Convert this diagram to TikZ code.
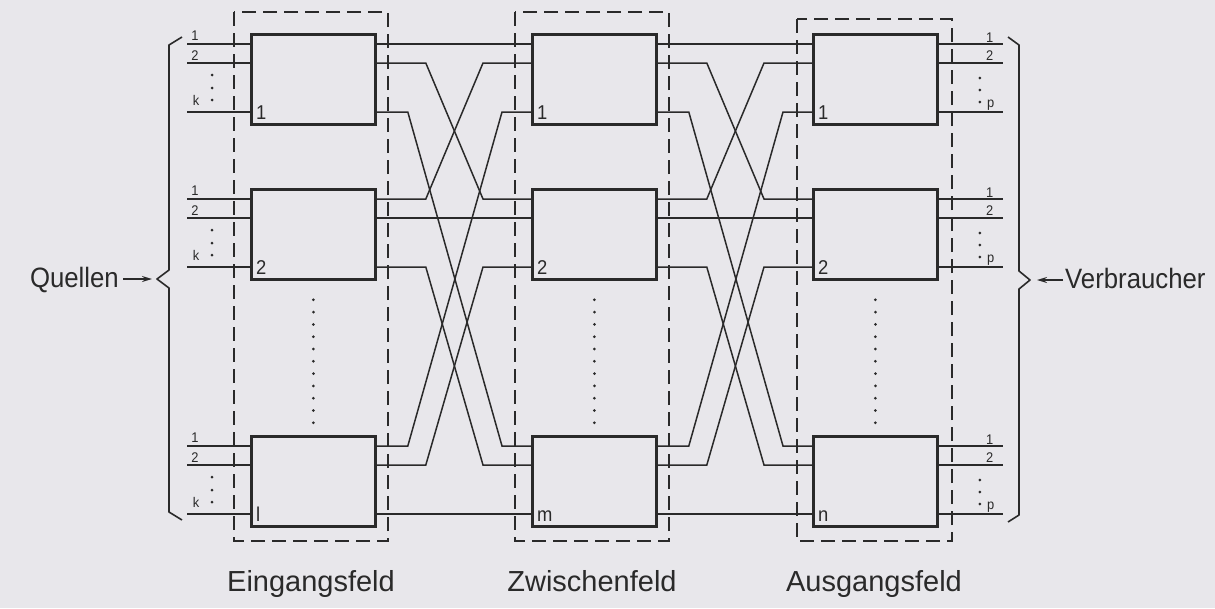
\documentclass[tikz,border=0pt]{standalone}
\usepackage{fontspec}
\setmainfont[FakeStretch=0.92]{Liberation Sans}
\newfontfamily\fieldfont[FakeStretch=1.0]{Liberation Sans}
\usetikzlibrary{calc,arrows.meta}
\definecolor{bg}{HTML}{E8E7EB}
\definecolor{ink}{HTML}{2A2A2A}
\newcommand\crosslink[4]{\draw[wire] (#1) -- ++(#3,0) -- ($(#2)+(-#4,0)$) -- (#2);}
\begin{document}
\begin{tikzpicture}[x=1pt,y=-1pt,
  sw/.style={draw=ink,line width=2.8pt,minimum width=124pt,minimum height=90pt,inner sep=0pt,anchor=north west},
  wire/.style={draw=ink,line width=1.5pt},
  field/.style={draw=ink,line width=1.8pt,dash pattern=on 14pt off 7pt},
  brace/.style={draw=ink,line width=1.6pt,line join=round},
  big/.style={font=\fontsize{28}{30}\selectfont,inner sep=0pt,text=ink},
  fieldlabel/.style={font=\fieldfont\fontsize{29}{31}\selectfont,inner sep=0pt,text=ink,anchor=base},
  small/.style={font=\fontsize{14}{16}\selectfont,inner sep=0pt,anchor=base,text=ink},
  num/.style={font=\fontsize{20}{22}\selectfont,inner sep=0pt,anchor=base west,text=ink},
  arr/.style={draw=ink,line width=1.6pt,-{Stealth[length=10pt,width=6pt]}}
]
\useasboundingbox (0,0) rectangle (1215,608);
\fill[bg] (0,0) rectangle (1215,608);

% dashed fields
\draw[field] (234,12) rectangle (388,541);
\draw[field] (515,12) rectangle (669,541);
\draw[field] (797,19) rectangle (952,541);

% switch boxes
\foreach \c/\x in {L/250,M/531,R/812}{
  \foreach \b/\y in {1/33,2/188,3/435}{
    \node[sw] (\c\b) at (\x,\y) {};
    \foreach \p/\o in {1/11,2/30,3/79}{
      \coordinate (\c\b o\p) at ($(\c\b.north east)+(0,\o)$);
      \coordinate (\c\b i\p) at ($(\c\b.north west)+(0,\o)$);
    }
  }
}

% links between stages
\foreach \A/\B in {L/M,M/R}{
  \draw[wire] (\A1o1) -- (\B1i1);
  \draw[wire] (\A2o2) -- (\B2i2);
  \draw[wire] (\A3o3) -- (\B3i3);
  \crosslink{\A1o2}{\B2i1}{49}{48}
  \crosslink{\A2o1}{\B1i2}{49}{48}
  \crosslink{\A2o3}{\B3i2}{49}{48}
  \crosslink{\A3o2}{\B2i3}{49}{48}
  \crosslink{\A1o3}{\B3i1}{31}{29}
  \crosslink{\A3o1}{\B1i3}{31}{29}
}

% inputs and outputs with labels
\foreach \b in {1,2,3}{
  \foreach \p in {1,2,3}{
    \coordinate (in\b\p) at ($(L\b i\p)+(-63,0)$);
    \coordinate (out\b\p) at ($(R\b o\p)+(64,0)$);
    \draw[wire] (in\b\p) -- (L\b i\p);
    \draw[wire] (R\b o\p) -- (out\b\p);
  }
  \node[small] at ($(L\b.north west)+(-55,7)$) {1};
  \node[small] at ($(L\b.north west)+(-55,27)$) {2};
  \node[small] at ($(L\b.north west)+(-54,72)$) {k};
  \foreach \d in {42,55,67} \fill[ink] ($(L\b.north west)+(-38,\d)$) circle (1.5pt);
  \node[small] at ($(R\b.north east)+(51,9)$) {1};
  \node[small] at ($(R\b.north east)+(51,27)$) {2};
  \node[small] at ($(R\b.north east)+(52,74)$) {p};
  \foreach \d in {45,57,69} \fill[ink] ($(R\b.north east)+(41,\d)$) circle (1.5pt);
}

% box numbers
\foreach \c/\t in {L1/1,L2/2,L3/l,M1/1,M2/2,M3/m,R1/1,R2/2,R3/n}
  \node[num] at ($(\c.south west)+(6,-6)$) {\t};

% vertical dotted continuation
\foreach \c in {L,M,R}
  \foreach \k in {0,...,10}
    \fill[ink] ($(\c2.south)+(0,19+12.3*\k)$) circle (1.5pt);

% braces
\coordinate (lb) at (157,279);
\coordinate (rb) at (1030,280);
\draw[brace] (182,37) -- (169,45) -- (169,270) -- (lb) -- (169,288) -- (169,512) -- (182,520);
\draw[brace] (1008,37) -- (1019,45) -- (1019,271) -- (rb) -- (1019,289) -- (1019,515) -- (1008,522);

% side labels
\node[big,anchor=base east] (Q) at (119,287) {Quellen};
\node[big,anchor=base west] (V) at (1065,288) {Verbraucher};
\draw[arr] ($(Q.base east)+(4,-8)$) -- ($(lb)+(-5,0)$);
\draw[arr] ($(V.base west)+(-2,-8)$) -- ($(rb)+(7,0)$);

% field labels, centred under the fields
\node[fieldlabel] (E) at (311,591) {Eingangsfeld};
\node[fieldlabel] (Z) at (592,591) {Zwischenfeld};
\node[fieldlabel] (A) at (874,591) {Ausgangsfeld};
\end{tikzpicture}
\end{document}
